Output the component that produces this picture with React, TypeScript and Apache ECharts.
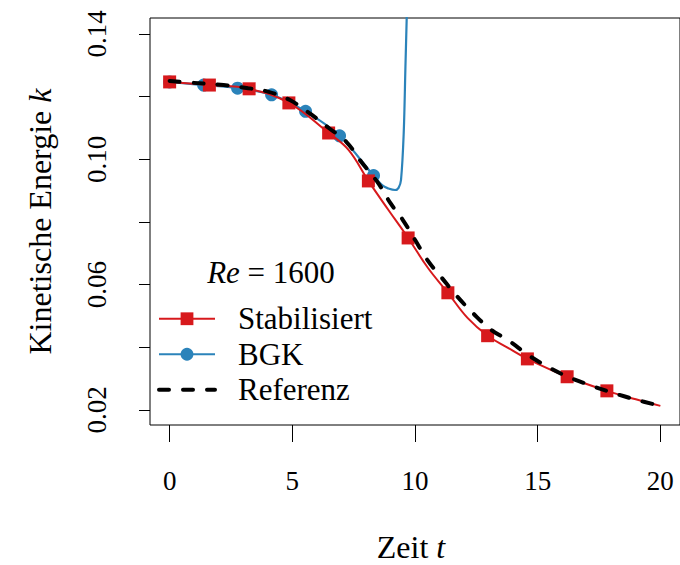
import React, { useEffect, useRef } from 'react';
import * as echarts from 'echarts';

// Axis ticks
const xTicks = [0, 5, 10, 15, 20];
const yTicks = [0.02, 0.04, 0.06, 0.08, 0.1, 0.12, 0.14];
const yTickLabels = [0.02, 0.06, 0.1, 0.14];

// Stabilisiert (red, squares)
const stabT = [0, 1.62, 3.24, 4.86, 6.48, 7.29, 8.1, 8.91, 9.72, 10.53, 11.34, 12.15, 12.96, 13.77, 14.58, 16.2, 17.82, 19.0, 20];
const stabK = [0.1247, 0.1237, 0.1225, 0.118, 0.1084, 0.103, 0.0931, 0.0839, 0.0749, 0.0653, 0.0574, 0.0493, 0.0437, 0.0399, 0.0363, 0.0306, 0.0261, 0.0234, 0.0213];
const stabMark = [true, true, true, true, true, false, true, false, true, false, true, false, true, false, true, true, true, false, false];

// BGK (blue, circles)
const bgkT = [0, 1.385, 2.77, 4.155, 5.54, 6.925, 8.31, 8.7, 8.91, 9.19, 9.33, 9.43, 9.54, 9.61, 9.66, 9.7];
const bgkK = [0.1247, 0.1237, 0.1227, 0.1206, 0.1153, 0.1075, 0.0948, 0.0915, 0.0907, 0.0902, 0.0909, 0.0934, 0.1084, 0.1295, 0.1445, 0.158];
const bgkMark = [true, true, true, true, true, true, true, false, false, false, false, false, false, false, false, false];

// Referenz (black dashed)
const refT = [0, 0.8, 2.2, 3.2, 4.0, 4.9, 5.7, 6.5, 7.2, 7.8, 8.5, 9.0, 9.5, 10.0, 10.5, 11.1, 11.7, 12.4, 13.1, 13.8, 14.7, 15.5, 16.2, 17.1, 18.0, 19.0, 20.0];
const refK = [0.125, 0.1245, 0.1237, 0.1227, 0.1216, 0.1189, 0.1147, 0.1099, 0.1056, 0.0993, 0.0924, 0.086, 0.0807, 0.0743, 0.0679, 0.0621, 0.0564, 0.0506, 0.0456, 0.0422, 0.0371, 0.0334, 0.0307, 0.028, 0.0256, 0.0233, 0.0213];

const RED = '#d7191c';
const BLUE = '#2b83ba';
const FONT = 'Liberation Serif';
const DASH = [10, 14];

function withMarks(t: number[], k: number[], mark: boolean[]) {
  return t.map((tv, i) => (mark[i] ? { value: [tv, k[i]] } : { value: [tv, k[i]], symbol: 'none' }));
}

export default function App() {
  const ref = useRef<HTMLDivElement>(null);
  useEffect(() => {
    document.body.style.margin = '0';
    const chart = echarts.init(ref.current!, undefined, { renderer: 'svg' });
    const option: any = {
      animation: false,
      textStyle: { fontFamily: FONT, color: '#000' },
      grid: {
        left: 150, top: 18, width: 534, height: 407,
        show: true, borderColor: '#000', borderWidth: 1, backgroundColor: 'transparent',
      },
      xAxis: {
        type: 'value', min: -0.8, max: 20.8, position: 'bottom',
        axisLine: { show: false, onZero: false },
        splitLine: { show: false },
        axisTick: { show: true, inside: false, length: 17, customValues: xTicks, lineStyle: { color: '#000', width: 1 } },
        axisLabel: { customValues: xTicks, margin: 42, fontSize: 27, fontFamily: FONT, color: '#000' },
      },
      yAxis: {
        type: 'value', min: 0.0152, max: 0.1451, position: 'left',
        axisLine: { show: false, onZero: false },
        splitLine: { show: false },
        axisTick: { show: true, inside: false, length: 11, customValues: yTicks, lineStyle: { color: '#000', width: 1 } },
        axisLabel: {
          customValues: yTickLabels, rotate: 90, margin: 40, fontSize: 27, fontFamily: FONT, color: '#000',
          formatter: (v: number) => v.toFixed(2),
        },
      },
      legend: {
        data: [
          { name: 'Stabilisiert' },
          { name: 'BGK' },
          { name: 'Referenz', itemStyle: { opacity: 0 }, lineStyle: { width: 4, type: DASH, cap: 'round', color: '#000' } },
        ],
        orient: 'vertical', left: 157, top: 301, padding: 0,
        itemWidth: 56, itemHeight: 16, itemGap: 0,
        selectedMode: false,
        textStyle: { fontSize: 31, fontFamily: FONT, color: '#000', lineHeight: 35.5, padding: [0, 0, 0, 18] },
      },
      graphic: [
        {
          type: 'text', x: 40, y: 221.5, rotation: Math.PI / 2,
          style: {
            text: '{n|Kinetische Energie }{i|k}',
            rich: {
              n: { fontSize: 32, fontFamily: FONT, fill: '#000' },
              i: { fontSize: 32, fontFamily: FONT, fontStyle: 'italic', fill: '#000' },
            },
            align: 'center', verticalAlign: 'middle',
          },
        },
        {
          type: 'text', x: 411, y: 547,
          style: {
            text: '{n|Zeit }{i|t}',
            rich: {
              n: { fontSize: 32, fontFamily: FONT, fill: '#000' },
              i: { fontSize: 32, fontFamily: FONT, fontStyle: 'italic', fill: '#000' },
            },
            align: 'center', verticalAlign: 'middle',
          },
        },
        {
          type: 'text', x: 271, y: 272.5,
          style: {
            text: '{i|Re}{n| = 1600}',
            rich: {
              n: { fontSize: 31, fontFamily: FONT, fill: '#000' },
              i: { fontSize: 31, fontFamily: FONT, fontStyle: 'italic', fill: '#000' },
            },
            align: 'center', verticalAlign: 'middle',
          },
        },
      ],
      series: [
        {
          name: 'BGK', type: 'line', data: withMarks(bgkT, bgkK, bgkMark),
          smooth: 0.35, symbol: 'circle', symbolSize: 13, showAllSymbol: true,
          lineStyle: { color: BLUE, width: 2.2 }, itemStyle: { color: BLUE }, z: 2,
        },
        {
          name: 'Stabilisiert', type: 'line', data: withMarks(stabT, stabK, stabMark),
          smooth: 0.4, symbol: 'rect', symbolSize: 13, showAllSymbol: true,
          lineStyle: { color: RED, width: 2 }, itemStyle: { color: RED }, z: 3,
        },
        {
          name: 'Referenz', type: 'line', data: refT.map((t, i) => [t, refK[i]]),
          smooth: 0.4, symbol: 'none', showSymbol: false,
          lineStyle: { color: '#000', width: 4, type: DASH, cap: 'round' },
          itemStyle: { color: '#000' }, z: 4,
        },
      ],
    };
    chart.setOption(option);
    return () => chart.dispose();
  }, []);
  return <div ref={ref} style={{ width: 680, height: 565 }} />;
}
